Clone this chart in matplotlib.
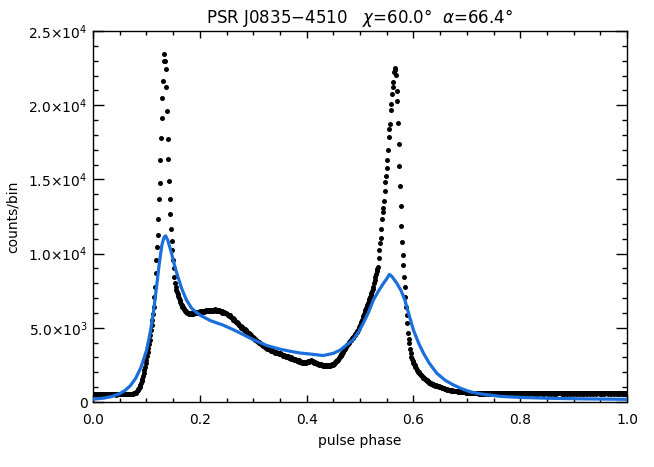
import numpy as np
import matplotlib
matplotlib.use('Agg')
import matplotlib.pyplot as plt
from matplotlib.ticker import MultipleLocator

# observed pulse profile, 800 phase bins, counts in units of 10
COUNTS_TENS = [
    54, 52, 55, 53, 50, 54, 56, 53, 51, 55, 54, 51, 53, 56, 52, 54, 57, 53, 51, 54,
    53, 55, 51, 54, 50, 53, 56, 54, 52, 53, 57, 54, 51, 55, 53, 50, 54, 56, 53, 52,
    54, 52, 55, 51, 54, 57, 53, 55, 53, 51, 55, 53, 56, 54, 55, 57, 54, 56, 55, 57,
    56, 58, 59, 61, 64, 68, 72, 78, 85, 93, 103, 115, 128, 142, 158, 175, 193, 215, 238, 260,
    283, 308, 335, 362, 390, 418, 450, 485, 520, 555, 595, 642, 710, 777, 867, 957, 1042, 1123, 1231, 1366,
    1478, 1631, 1777, 1916, 2049, 2163, 2298, 2347, 2298, 2246, 2120, 1959, 1770, 1635, 1491, 1368, 1267, 1166, 1087, 1024,
    957, 901, 844, 800, 777, 755, 740, 728, 715, 698, 687, 676, 662, 655, 643, 638, 628, 624, 615, 612,
    606, 603, 597, 601, 595, 599, 592, 598, 594, 600, 596, 601, 597, 604, 599, 605, 601, 607, 602, 609,
    604, 611, 606, 613, 608, 615, 609, 616, 611, 618, 612, 617, 614, 620, 613, 619, 615, 622, 616, 621,
    614, 623, 617, 624, 616, 622, 615, 621, 613, 619, 610, 616, 607, 612, 603, 609, 600, 605, 597, 601,
    594, 596, 587, 589, 580, 583, 572, 575, 564, 566, 555, 557, 547, 548, 538, 540, 530, 532, 522, 519,
    512, 510, 502, 504, 494, 497, 489, 490, 481, 483, 473, 475, 464, 466, 456, 457, 447, 449, 439, 440,
    431, 430, 423, 421, 416, 412, 409, 404, 402, 396, 396, 390, 389, 384, 383, 378, 377, 372, 371, 366,
    366, 360, 361, 355, 356, 350, 352, 346, 348, 341, 344, 337, 340, 333, 337, 330, 333, 327, 330, 324,
    327, 321, 324, 317, 320, 313, 316, 309, 313, 305, 310, 302, 307, 299, 304, 296, 301, 293, 297, 290,
    293, 285, 289, 281, 286, 277, 283, 274, 280, 270, 276, 268, 272, 265, 269, 262, 266, 263, 268, 265,
    271, 268, 275, 272, 279, 276, 280, 274, 277, 270, 273, 265, 268, 261, 265, 258, 262, 255, 259, 252,
    256, 249, 253, 246, 250, 244, 248, 242, 247, 241, 246, 241, 247, 242, 248, 244, 251, 247, 254, 251,
    259, 258, 267, 266, 276, 276, 286, 286, 297, 297, 309, 310, 323, 324, 337, 339, 352, 354, 367, 370,
    382, 386, 394, 398, 405, 409, 416, 420, 428, 432, 440, 445, 453, 458, 467, 472, 481, 488, 497, 506,
    518, 530, 542, 555, 568, 582, 595, 608, 621, 633, 645, 656, 668, 680, 692, 705, 718, 732, 747, 762,
    777, 800, 822, 845, 862, 880, 898, 912, 970, 1024, 1070, 1107, 1164, 1233, 1278, 1305, 1354, 1422, 1482, 1525,
    1579, 1629, 1700, 1786, 1838, 1875, 1968, 2006, 2075, 2125, 2154, 2222, 2240, 2253, 2203, 2098, 2030, 1880, 1739, 1588,
    1454, 1323, 1186, 1080, 990, 923, 844, 777, 710, 642, 586, 530, 463, 425, 396, 360, 328, 305, 290, 278,
    266, 254, 246, 234, 229, 219, 214, 205, 201, 194, 191, 184, 181, 173, 170, 163, 161, 155, 153, 148,
    147, 141, 139, 133, 131, 125, 125, 121, 121, 117, 118, 114, 115, 111, 112, 109, 109, 106, 107, 103,
    104, 100, 100, 96, 96, 92, 93, 89, 89, 86, 86, 83, 84, 81, 82, 79, 80, 77, 79, 76,
    77, 74, 76, 73, 75, 71, 74, 70, 73, 69, 72, 68, 71, 67, 70, 66, 69, 65, 68, 64,
    67, 63, 66, 62, 65, 62, 64, 61, 64, 60, 63, 60, 62, 59, 62, 58, 61, 58, 61, 57,
    60, 57, 61, 58, 60, 56, 61, 59, 57, 60, 58, 61, 57, 60, 59, 56, 61, 58, 60, 57,
    59, 61, 57, 60, 58, 62, 57, 59, 60, 56, 61, 58, 60, 57, 61, 59, 56, 60, 58, 61,
    57, 60, 59, 56, 61, 58, 60, 57, 62, 58, 59, 61, 57, 60, 58, 56, 61, 59, 60, 57,
    61, 58, 60, 57, 59, 62, 58, 60, 56, 61, 59, 57, 60, 58, 62, 57, 59, 61, 58, 60,
    57, 61, 59, 56, 60, 58, 61, 57, 60, 59, 62, 58, 57, 60, 59, 61, 56, 60, 58, 61,
    59, 57, 60, 62, 58, 60, 57, 61, 59, 58, 60, 56, 61, 59, 57, 60, 62, 58, 59, 61,
    58, 60, 57, 61, 59, 56, 60, 58, 62, 59, 57, 61, 58, 60, 59, 57, 61, 58, 60, 56,
    60, 58, 61, 57, 59, 62, 58, 60, 57, 61, 59, 58, 60, 56, 61, 59, 57, 60, 58, 61,
    57, 60, 59, 61, 58, 56, 60, 59, 62, 57, 60, 58, 61, 59, 57, 60, 58, 61, 59, 56,
    60, 58, 57, 61, 59, 60, 57, 62, 58, 59, 61, 57, 60, 58, 59, 61, 56, 60, 58, 60,
    59, 57, 61, 58, 60, 56, 59, 61, 57, 60, 58, 59, 56, 60, 58, 57, 59, 56, 58, 55,
]

# model light curve (blue line)
MODEL_PHASE = [0.000, 0.020, 0.035, 0.050, 0.060, 0.070, 0.080, 0.090, 0.100, 0.107,
               0.113, 0.119, 0.124, 0.129, 0.133, 0.136, 0.140, 0.147, 0.153, 0.159,
               0.166, 0.175, 0.185, 0.200, 0.220, 0.243, 0.260, 0.281, 0.300, 0.326,
               0.350, 0.369, 0.388, 0.410, 0.431, 0.450, 0.463, 0.475, 0.487, 0.497,
               0.506, 0.516, 0.525, 0.535, 0.544, 0.550, 0.555, 0.560, 0.569, 0.577,
               0.584, 0.592, 0.600, 0.610, 0.619, 0.630, 0.644, 0.660, 0.675, 0.690,
               0.706, 0.725, 0.762, 0.800, 0.856, 0.920, 1.000]
MODEL_COUNTS = [190, 260, 370, 560, 780, 1100, 1600, 2350, 3450, 4650,
                6000, 7770, 9300, 10580, 11100, 11200, 10900, 10040, 9150, 8440,
                7650, 6870, 6300, 5860, 5480, 5190, 4920, 4550, 4200, 3800,
                3560, 3420, 3300, 3220, 3130, 3280, 3500, 3850, 4180, 4700,
                5300, 6050, 6870, 7500, 8000, 8300, 8600, 8450, 8000, 7500,
                6870, 5850, 4850, 3950, 3280, 2600, 1930, 1450, 1150, 900,
                690, 550, 380, 310, 250, 210, 180]

Y_TICKS = [0, 5000, 10000, 15000, 20000, 25000]
Y_TICK_LABELS = ['0', r'$5.0{\times}10^{3}$', r'$1.0{\times}10^{4}$',
                 r'$1.5{\times}10^{4}$', r'$2.0{\times}10^{4}$', r'$2.5{\times}10^{4}$']
X_TICKS = [0.0, 0.2, 0.4, 0.6, 0.8, 1.0]
X_TICK_LABELS = ['0.0', '0.2', '0.4', '0.6', '0.8', '1.0']

counts = np.array(COUNTS_TENS) * 10
phase = np.arange(len(counts)) / len(counts)

fig = plt.figure(figsize=(6.54, 4.67), dpi=100)
ax = fig.add_axes([93 / 654, 1 - 402 / 467, (627 - 93) / 654, (402 - 31) / 467])

ax.plot(phase, counts, 'o', ms=3.6, color='black', mec='none', zorder=2)
ax.plot(MODEL_PHASE, MODEL_COUNTS, '-', color='#1a6fdc', lw=2.3, zorder=3)

ax.set_xlim(0, 1)
ax.set_ylim(0, 25000)
ax.set_xticks(X_TICKS)
ax.set_xticklabels(X_TICK_LABELS)
ax.set_yticks(Y_TICKS)
ax.set_yticklabels(Y_TICK_LABELS)
ax.xaxis.set_minor_locator(MultipleLocator(0.05))
ax.yaxis.set_minor_locator(MultipleLocator(1000))

ax.tick_params(axis='both', which='both', direction='in', top=True, right=True,
               labelsize=10, width=1.0)
ax.tick_params(axis='x', which='major', length=5.3, pad=8)
ax.tick_params(axis='x', which='minor', length=2.7)
ax.tick_params(axis='y', which='major', length=7.7, pad=4)
ax.tick_params(axis='y', which='minor', length=3.8)
for s in ax.spines.values():
    s.set_linewidth(1.0)

ax.set_xlabel('pulse phase', fontsize=10, labelpad=5)
ax.set_ylabel('counts/bin', fontsize=10, labelpad=6)
ax.set_title('PSR J0835\u22124510   $\\chi$=60.0\u00b0  $\\alpha$=66.4\u00b0', fontsize=12, pad=6)

fig.savefig('out.png', dpi=100)
